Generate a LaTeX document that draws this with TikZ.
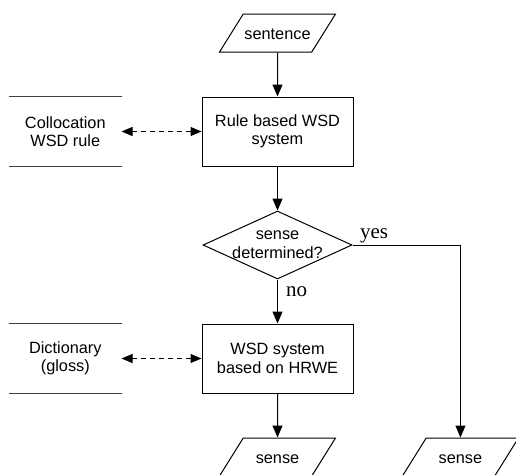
\documentclass[tikz,border=0pt]{standalone}
\usepackage{fontspec}
\setmainfont{Liberation Sans}
\newfontfamily\yesnofont{Liberation Serif}
\usetikzlibrary{positioning,shapes.geometric,arrows.meta}

\begin{document}
\begin{tikzpicture}[
x=1pt, y=-1pt,
node distance=44pt,
every node/.style={font=\fontsize{16.3}{18.5}\selectfont},
proc/.style={rectangle, draw=black, fill=white, line width=1pt, minimum width=151pt, minimum height=69pt, align=center, inner sep=2pt},
io/.style={trapezium, trapezium left angle=58, trapezium right angle=122, trapezium stretches body, draw=black, fill=white, line width=1pt, minimum width=116pt, text height=12pt, text depth=0pt, inner ysep=13pt, inner xsep=0pt},
cond/.style={diamond, draw=black, fill=white, line width=1pt, minimum width=149pt, minimum height=68pt, inner sep=0pt},
store/.style={rectangle, minimum width=112pt, minimum height=69pt, align=center, inner sep=0pt},
storeline/.style={draw=black!75, line width=1.3pt},
arr/.style={-{Triangle[length=12pt, width=10pt]}, line width=1pt},
link/.style={{Triangle[length=11pt, width=9pt]}-{Triangle[length=11pt, width=9pt]}, line width=1pt, dash pattern=on 5pt off 4pt},
yesno/.style={font=\yesnofont\fontsize{21}{24}\selectfont, inner sep=0pt}
]
\useasboundingbox (0,0) rectangle (516,474);

%Nodes
\node[io]    (sent)  at (277.5,33)           {sentence};
\node[proc]  (rule)  [below=of sent]         {Rule based WSD\\system};
\node[cond, label={[align=center, font=\fontsize{16.3}{19}\selectfont]center:{sense\\determined?}}] (dec) [below=of rule] {};
\node[proc]  (hrwe)  [below=of dec]          {WSD system\\based on HRWE};
\node[io]    (out1)  [below=of hrwe]         {sense};
\node[io]    (out2)  [right=89.5pt of out1]  {sense};
\node[store] (coll)  [left=80pt of rule]     {Collocation\\WSD rule};
\node[store] (dict)  [left=80pt of hrwe]     {Dictionary\\(gloss)};

%Lines
\draw[arr] (sent) -- (rule);
\draw[arr] (rule) -- (dec);
\draw[arr] (dec) -- (hrwe) node[yesno, pos=0.28, right=8pt] {no};
\draw[arr] (hrwe) -- (out1);
\draw[arr] (dec) -| (out2) node[yesno, pos=0, anchor=base west, xshift=7pt, yshift=7pt] {yes};
\draw[link] (coll) -- (rule);
\draw[link] (dict) -- (hrwe);

%Store edges
\draw[storeline] (coll.north west) -- (coll.north east) (coll.south west) -- (coll.south east);
\draw[storeline] (dict.north west) -- (dict.north east) (dict.south west) -- (dict.south east);
\end{tikzpicture}
\end{document}
